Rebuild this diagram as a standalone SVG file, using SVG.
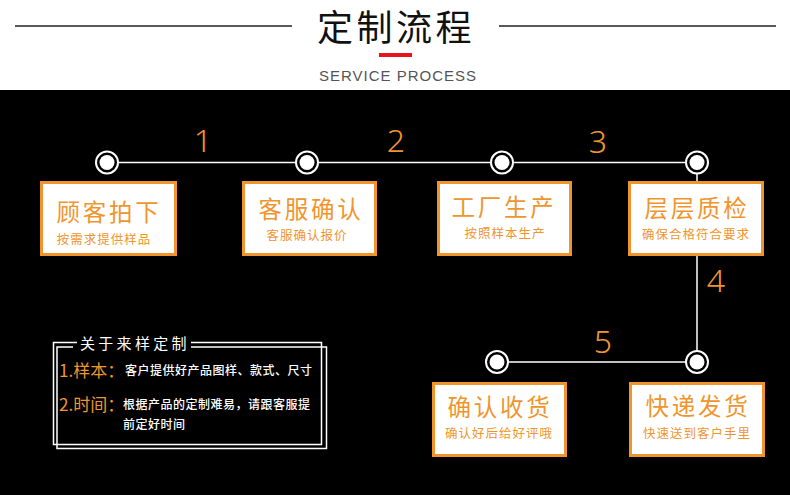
<svg xmlns="http://www.w3.org/2000/svg" width="790" height="495" viewBox="0 0 790 495">
<style>
.cjk{font-family:"Noto Sans CJK SC","Noto Sans",sans-serif}
.box{fill:#ffffff;stroke:#f0952e;stroke-width:3}
.bt{font-size:23.5px;fill:#f0952e;letter-spacing:2.8px;text-anchor:middle}
.bs{font-size:12.5px;fill:#f0952e;letter-spacing:1px;text-anchor:middle}
.ring{fill:#000;stroke:#fff;stroke-width:2}
.dot{fill:#fff}
.ln{stroke:#fff;stroke-width:1.5;fill:none}
.num{font-family:"Noto Sans","Liberation Sans",sans-serif;font-size:32px;fill:#f0952e;text-anchor:middle;font-weight:300}
.nb{fill:none;stroke:#fff;stroke-width:1.5}
.ot{font-size:17px;fill:#f0952e}
.wt{font-size:12px;fill:#fff;letter-spacing:0.5px;font-weight:500}
</style>
<rect x="0" y="0" width="790" height="90" fill="#fff"/>
<rect x="0" y="90" width="790" height="405" fill="#000"/>
<g id="header">
<line x1="15" y1="26" x2="292" y2="26" stroke="#222" stroke-width="1.5"/>
<line x1="499" y1="26" x2="776" y2="26" stroke="#222" stroke-width="1.5"/>
<text class="cjk" x="396" y="41" font-size="36" fill="#111" text-anchor="middle" letter-spacing="3.5">定制流程</text>
<rect x="379" y="53" width="33" height="4" fill="#e8141b"/>
<text x="319" y="81" font-family="'Liberation Sans',sans-serif" font-size="15" fill="#555" textLength="157" lengthAdjust="spacing">SERVICE PROCESS</text>
</g>
<g id="connectors">
<line class="ln" x1="107" y1="162.5" x2="697" y2="162.5"/>
<line class="ln" x1="697" y1="162.5" x2="697" y2="362"/>
<line class="ln" x1="497" y1="362" x2="697" y2="362"/>
<text class="num" x="203" y="152">1</text>
<text class="num" x="396" y="152">2</text>
<text class="num" x="598" y="153">3</text>
<text class="num" x="716" y="292">4</text>
<text class="num" x="603" y="353">5</text>
</g>
<g id="step1">
<circle class="ring" cx="107" cy="162.5" r="11"/><circle class="dot" cx="107" cy="162.5" r="7.5"/>
<rect class="box" x="41.5" y="182.5" width="134" height="72"/>
<text class="cjk bt" x="109" y="220.5">顾客拍下</text>
<text class="cjk bs" x="104" y="243.5">按需求提供样品</text>
</g>
<g id="step2">
<circle class="ring" cx="307" cy="162.5" r="11"/><circle class="dot" cx="307" cy="162.5" r="7.5"/>
<rect class="box" x="243.5" y="182.5" width="132" height="72"/>
<text class="cjk bt" x="311" y="218">客服确认</text>
<text class="cjk bs" x="307" y="239.5">客服确认报价</text>
</g>
<g id="step3">
<circle class="ring" cx="502" cy="162.5" r="11"/><circle class="dot" cx="502" cy="162.5" r="7.5"/>
<rect class="box" x="438.5" y="182.5" width="132" height="72"/>
<text class="cjk bt" x="504" y="216">工厂生产</text>
<text class="cjk bs" x="505" y="237.5">按照样本生产</text>
</g>
<g id="step4">
<circle class="ring" cx="697" cy="162.5" r="11"/><circle class="dot" cx="697" cy="162.5" r="7.5"/>
<rect class="box" x="629.5" y="182.5" width="133" height="72"/>
<text class="cjk bt" x="697" y="217">层层质检</text>
<text class="cjk bs" x="696" y="238.5">确保合格符合要求</text>
</g>
<g id="step5">
<circle class="ring" cx="697" cy="362" r="11"/><circle class="dot" cx="697" cy="362" r="7.5"/>
<rect class="box" x="630.5" y="383.5" width="133" height="72"/>
<text class="cjk bt" x="698" y="415">快递发货</text>
<text class="cjk bs" x="697" y="437.5">快速送到客户手里</text>
</g>
<g id="step6">
<circle class="ring" cx="497" cy="362" r="11"/><circle class="dot" cx="497" cy="362" r="7.5"/>
<rect class="box" x="433.5" y="383.5" width="132" height="72"/>
<text class="cjk bt" x="500" y="416">确认收货</text>
<text class="cjk bs" x="499" y="437.5">确认好后给好评哦</text>
</g>
<g id="note">
<path class="nb" d="M77,342.5 H53.5 V444.5 H321.5 V342.5 H191"/>
<path class="nb" d="M73,347 H57 V448.5 H326.5 V347 H191"/>
<text class="cjk" x="80" y="349" font-size="15" fill="#fff" letter-spacing="3.3">关于来样定制</text>
<text class="cjk ot" x="59" y="377">1.样本：</text>
<text class="cjk wt" x="125" y="375">客户提供好产品图样、款式、尺寸</text>
<text class="cjk ot" x="59" y="411">2.时间：</text>
<text class="cjk wt" x="123" y="409">根据产品的定制难易，请跟客服提</text>
<text class="cjk wt" x="123" y="429">前定好时间</text>
</g>
</svg>
